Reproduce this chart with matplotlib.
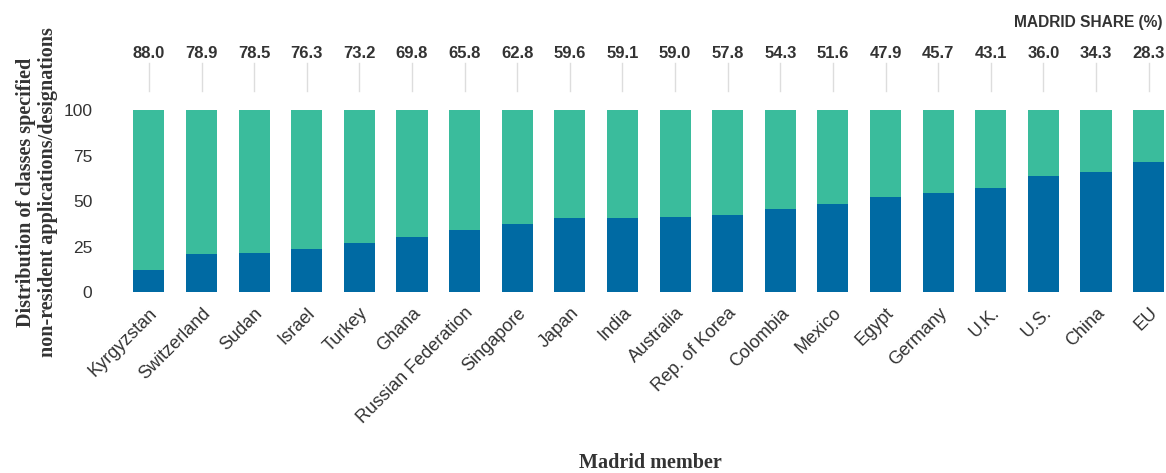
import matplotlib
matplotlib.use("Agg")
import matplotlib.pyplot as plt
import numpy as np

# Madrid members and their Madrid share (%) of non-resident classes
members = ["Kyrgyzstan", "Switzerland", "Sudan", "Israel", "Turkey", "Ghana",
           "Russian Federation", "Singapore", "Japan", "India", "Australia",
           "Rep. of Korea", "Colombia", "Mexico", "Egypt", "Germany", "U.K.",
           "U.S.", "China", "EU"]
madrid_share = [88.0, 78.9, 78.5, 76.3, 73.2, 69.8, 65.8, 62.8, 59.6, 59.1,
                59.0, 57.8, 54.3, 51.6, 47.9, 45.7, 43.1, 36.0, 34.3, 28.3]
direct_share = [100 - s for s in madrid_share]

BLUE = "#006aa3"
GREEN = "#3abc9c"
TEXT = "#333333"

fig = plt.figure(figsize=(11.66, 4.73), dpi=100)
ax = fig.add_axes([120 / 1166, (473 - 292) / 473, 1046 / 1166, 182 / 473])

x = np.arange(len(members))
ax.bar(x, direct_share, width=0.59, color=BLUE, linewidth=0)
ax.bar(x, madrid_share, bottom=direct_share, width=0.59, color=GREEN, linewidth=0)

ax.set_xlim(-0.55, 19.33)
ax.set_ylim(0, 100)
ax.set_yticks([0, 25, 50, 75, 100])
ax.tick_params(axis="y", length=0, pad=20, labelsize=12.5, labelcolor=TEXT)
ax.tick_params(axis="x", length=0, pad=9)
ax.set_xticks(x)
ax.set_xticklabels(members, rotation=45, ha="right", rotation_mode="anchor",
                   fontsize=13, color=TEXT)
for lbl in ax.get_xticklabels() + ax.get_yticklabels():
    lbl.set_family("Liberation Sans")
for s in ax.spines.values():
    s.set_visible(False)

# share labels above bars with thin connector lines
for xi, s in zip(x, madrid_share):
    ax.text(xi, 131.3, f"{s:.1f}", ha="center", va="center", fontsize=12,
            fontweight="bold", color=TEXT, family="Liberation Sans", clip_on=False)
    ax.plot([xi, xi], [110.5, 126], color="#dddddd", lw=1, clip_on=False)

fig.text(1163 / 1166, 1 - 22 / 473, "MADRID SHARE (%)", ha="right", va="center",
         fontsize=11.2, fontweight="bold", color=TEXT, family="Liberation Sans")

fig.text(37 / 1166, 1 - 192 / 473,
         "Distribution of classes specified\nnon-resident applications/designations",
         rotation=90, ha="center", va="center", fontsize=14.5, fontweight="bold",
         color=TEXT, family="Liberation Serif", linespacing=1.15)
fig.text(650 / 1166, 1 - 463 / 473, "Madrid member", ha="center", va="center",
         fontsize=14.5, fontweight="bold", color=TEXT, family="Liberation Serif")

fig.savefig("out.png", dpi=100)
